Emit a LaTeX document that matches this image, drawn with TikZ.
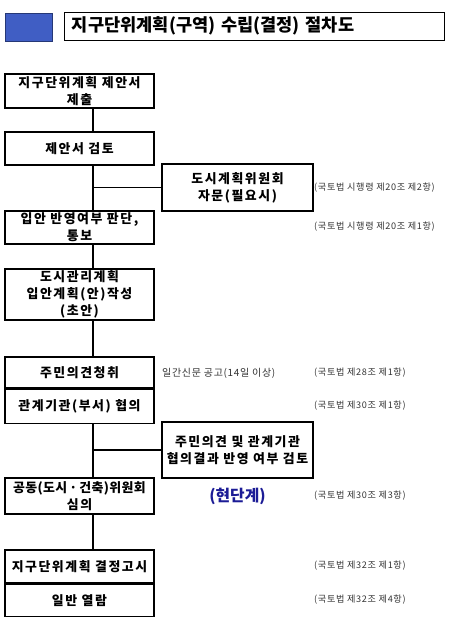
\documentclass[tikz,border=0pt]{standalone}
\usepackage{fontspec}
\setmainfont{Noto Sans CJK KR}
\newfontfamily\boxfont{Noto Sans CJK KR}[LetterSpace=12]
\newfontfamily\notefont{Noto Sans CJK KR}[LetterSpace=7]
\usetikzlibrary{positioning}
\definecolor{titleblue}{RGB}{64,94,196}
\definecolor{stageblue}{RGB}{28,28,150}
\tikzset{
  stepbox/.style={draw, line width=1pt, minimum width=4.47cm, inner sep=0pt, align=center,
    font=\boxfont\fontsize{11}{14.5}\selectfont\bfseries},
  sidebox/.style={stepbox, minimum width=4.53cm},
  law/.style={anchor=west, inner sep=0pt, font=\notefont\fontsize{7.8}{9}\selectfont, text=black!80},
  link/.style={line width=1pt},
}

\begin{document}
\begin{tikzpicture}[x=0.03cm, y=-0.03cm]
    \useasboundingbox (0,0) rectangle (451,621);

    % Title
    \node[draw=titleblue!60!black, fill=titleblue, minimum width=1.41cm, minimum height=0.84cm, inner sep=0pt] (mark) at (28.5,27) {};
    \node[draw, line width=0.8pt, minimum width=11.4cm, minimum height=0.84cm, inner sep=0pt, text width=10.92cm, align=left,
      font=\fontsize{15}{18}\selectfont\bfseries] (title) at (254,26) {지구단위계획(구역) 수립(결정) 절차도};

    % Steps
    \node[stepbox, minimum height=1.02cm] (propose) at (79.5,91) {지구단위계획 제안서\\제출};
    \node[stepbox, minimum height=0.99cm] (review) at (79.5,148.5) {제안서 검토};
    \node[sidebox, minimum height=1.41cm] (advise) at (237.5,187.5) {도시계획위원회\\자문(필요시)};
    \node[stepbox, minimum height=0.99cm] (decide) at (79.5,227.5) {입안 반영여부 판단,\\통보};
    \node[stepbox, minimum height=1.53cm] (draft) at (79.5,294.5) {도시관리계획\\입안계획(안)작성\\(초안)};
    \node[stepbox, minimum height=0.93cm] (hearing) at (79.5,372.5) {주민의견청취};
    \node[stepbox, minimum height=1.02cm, below=0pt of hearing] (consult) {관계기관(부서) 협의};
    \node[sidebox, minimum height=1.68cm] (reflect) at (237.5,450) {주민의견 및 관계기관\\협의결과 반영 여부 검토};
    \node[stepbox, minimum height=1.08cm] (council) at (79.5,496)
      {{\addfontfeatures{LetterSpace=3}공동(도시\,·\,건축)위원회}\\심의};
    \node[stepbox, minimum height=0.99cm] (notice) at (79.5,566.5) {지구단위계획 결정고시};
    \node[stepbox, minimum height=0.96cm, below=0pt of notice] (inspect) {일반 열람};

    % Connectors
    \coordinate (spine) at (93,0);
    \draw[link] (propose.south -| spine) -- (review.north -| spine);
    \draw[link] (review.south -| spine) -- (decide.north -| spine);
    \draw[link] (spine |- advise.west) -- (advise.west);
    \draw[link] (decide.south -| spine) -- (draft.north -| spine);
    \draw[link] (draft.south -| spine) -- (hearing.north -| spine);
    \draw[link] (consult.south -| spine) -- (council.north -| spine);
    \draw[link] (spine |- reflect.west) -- (reflect.west);
    \draw[link] (council.south -| spine) -- (notice.north -| spine);

    % Notes
    \node[law, font=\notefont\fontsize{8.5}{10}\selectfont] (paper) at (162,373) {일간신문 공고(14일 이상)};
    \node[inner sep=0pt, text=stageblue, font=\fontsize{13.5}{16}\selectfont\bfseries] (stage) at (237.5,496) {(현단계)};
    \node[law] (law1) at (314,188) {(국토법 시행령 제20조 제2항)};
    \node[law] (law2) at (314,227) {(국토법 시행령 제20조 제1항)};
    \node[law] (law3) at (314,373) {(국토법 제28조 제1항)};
    \node[law] (law4) at (314,406) {(국토법 제30조 제1항)};
    \node[law] (law5) at (314,496) {(국토법 제30조 제3항)};
    \node[law] (law6) at (314,566) {(국토법 제32조 제1항)};
    \node[law] (law7) at (314,600) {(국토법 제32조 제4항)};
\end{tikzpicture}
\end{document}
